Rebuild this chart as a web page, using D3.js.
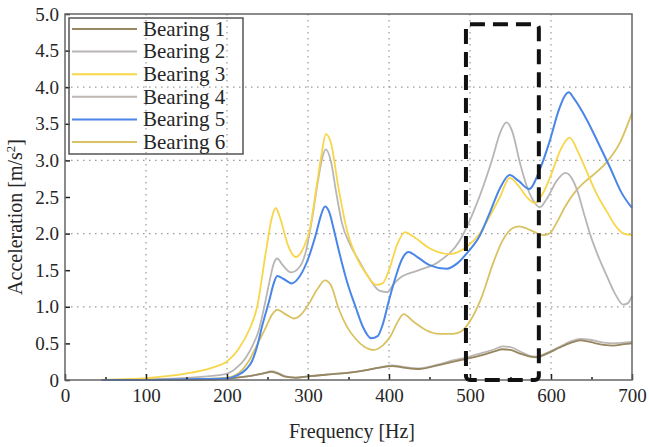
<!DOCTYPE html>
<html>
<head>
<meta charset="utf-8">
<script src="https://cdn.jsdelivr.net/npm/d3@7/dist/d3.min.js"></script>
<style>
  html, body { margin: 0; padding: 0; background: #fff; }
  svg { display: block; }
  text { font-family: "Liberation Serif", "Times New Roman", serif; fill: #262626; }
</style>
</head>
<body>
<svg id="chart" width="649" height="447"></svg>
<script>
// Frequency response of six bearings: [frequency Hz, acceleration m/s^2]
const bearing1 = [[45,0],[120,0],[180,0.005],[200,0.02],[225,0.05],[245,0.09],[255,0.11],[262,0.09],[272,0.045],[285,0.03],[300,0.05],[330,0.08],[351,0.1],[370,0.13],[388,0.17],[404,0.19],[418,0.17],[437,0.15],[460,0.2],[480,0.25],[496,0.29],[515,0.34],[530,0.39],[540,0.42],[550,0.41],[562,0.36],[574,0.32],[582,0.31],[595,0.36],[610,0.44],[625,0.51],[636,0.54],[648,0.52],[665,0.48],[677,0.47],[690,0.49],[700,0.5]];
const bearing2 = [[45,0],[100,0.01],[150,0.03],[198,0.08],[210,0.15],[223,0.3],[232,0.48],[239,0.67],[246,1.0],[252,1.32],[258,1.6],[262,1.66],[268,1.58],[279,1.47],[290,1.55],[297,1.74],[305,2.2],[312,2.7],[318,3.05],[322,3.15],[328,3.0],[335,2.55],[342,2.14],[352,1.85],[363,1.63],[375,1.4],[388,1.22],[398,1.2],[405,1.3],[413,1.39],[437,1.5],[462,1.62],[487,1.9],[508,2.4],[527,3.0],[538,3.4],[545,3.52],[552,3.4],[562,2.95],[571,2.62],[580,2.42],[586,2.36],[595,2.48],[607,2.72],[618,2.83],[626,2.75],[632,2.6],[640,2.3],[648,2.0],[658,1.7],[669,1.42],[679,1.18],[689,1.03],[695,1.05],[700,1.15]];
const bearing3 = [[45,0],[75,0.01],[115,0.04],[156,0.1],[185,0.18],[198,0.24],[214,0.42],[228,0.7],[237,0.99],[248,1.75],[255,2.2],[260,2.35],[266,2.2],[275,1.85],[285,1.68],[295,1.82],[302,2.05],[310,2.6],[317,3.1],[322,3.36],[328,3.25],[338,2.6],[348,2.05],[359,1.7],[372,1.45],[384,1.3],[392,1.32],[400,1.5],[410,1.85],[420,2.02],[430,1.96],[450,1.8],[475,1.72],[496,1.82],[512,2.0],[525,2.25],[537,2.5],[549,2.76],[560,2.65],[570,2.5],[580,2.42],[590,2.55],[600,2.8],[612,3.15],[623,3.31],[634,3.1],[644,2.85],[656,2.55],[669,2.3],[680,2.1],[690,2.0],[700,1.98]];
const bearing4 = [[45,0],[120,0],[180,0.005],[200,0.02],[225,0.05],[245,0.09],[255,0.12],[262,0.1],[272,0.05],[285,0.035],[300,0.05],[330,0.08],[351,0.1],[370,0.13],[388,0.17],[404,0.2],[418,0.18],[437,0.16],[460,0.21],[480,0.27],[496,0.31],[515,0.37],[530,0.42],[540,0.46],[550,0.45],[562,0.39],[574,0.33],[582,0.32],[595,0.37],[610,0.45],[625,0.53],[636,0.56],[648,0.55],[665,0.51],[677,0.5],[690,0.51],[700,0.52]];
const bearing5 = [[45,0],[100,0],[150,0.01],[198,0.02],[214,0.07],[224,0.15],[231,0.26],[237,0.45],[243,0.72],[252,1.08],[258,1.33],[262,1.42],[270,1.38],[280,1.32],[290,1.42],[301,1.68],[310,2.0],[316,2.25],[321,2.37],[326,2.3],[332,2.05],[338,1.77],[348,1.35],[359,0.99],[368,0.72],[378,0.57],[386,0.6],[392,0.75],[400,1.09],[408,1.4],[416,1.65],[424,1.75],[435,1.68],[450,1.57],[471,1.52],[485,1.6],[496,1.73],[512,1.97],[525,2.3],[537,2.62],[549,2.8],[560,2.72],[573,2.61],[586,2.87],[598,3.25],[610,3.7],[617,3.88],[622,3.93],[628,3.85],[644,3.56],[660,3.2],[673,2.9],[687,2.56],[700,2.35]];
const bearing6 = [[45,0],[100,0],[150,0.01],[198,0.03],[215,0.1],[228,0.28],[238,0.5],[248,0.72],[256,0.9],[262,0.96],[272,0.9],[283,0.84],[292,0.9],[301,1.04],[312,1.25],[321,1.36],[328,1.3],[338,0.97],[348,0.73],[359,0.56],[370,0.45],[380,0.41],[392,0.47],[402,0.6],[410,0.78],[418,0.9],[430,0.8],[446,0.68],[462,0.63],[479,0.63],[490,0.67],[503,0.86],[515,1.15],[528,1.58],[540,1.9],[552,2.07],[561,2.1],[570,2.07],[578,2.03],[590,1.98],[598,2.0],[607,2.15],[617,2.36],[632,2.6],[640,2.69],[652,2.8],[669,2.98],[685,3.24],[700,3.65]];

const seriesNames = ["Bearing 1", "Bearing 2", "Bearing 3", "Bearing 4", "Bearing 5", "Bearing 6"];
const seriesData = [bearing1, bearing2, bearing3, bearing4, bearing5, bearing6];
const seriesColors = ["#968761", "#b9b5b5", "#f7d64a", "#bdb6b3", "#4a86e8", "#d9c262"];
// draw order: low curves first, blue on top
const drawOrder = [5, 1, 3, 0, 2, 4];

const xTicks = [0, 100, 200, 300, 400, 500, 600, 700];
const xMinorTicks = [50, 150, 250, 350, 450, 550, 650];
const yTicks = [0, 0.5, 1.0, 1.5, 2.0, 2.5, 3.0, 3.5, 4.0, 4.5, 5.0];
const yGrid = [1, 2, 3, 4];
const xGrid = [100, 200, 300, 400, 500, 600];

// highlighted band [fromHz, toHz, fromAcc, toAcc]
const highlight = [495, 585, 0, 4.86];

const xTitle = "Frequency [Hz]";
const yTitle = "Acceleration [m/s";

const plot = { left: 65, right: 632, top: 14, bottom: 380 };
const svg = d3.select("#chart");

const x = d3.scaleLinear().domain([0, 700]).range([plot.left, plot.right]);
const y = d3.scaleLinear().domain([0, 5]).range([plot.bottom, plot.top]);

// grid
const grid = svg.append("g").attr("stroke", "#9a9a9a").attr("stroke-width", 1.2)
  .attr("stroke-dasharray", "1.5,4.5");
grid.selectAll("line.h").data(yGrid).join("line").attr("class", "h")
  .attr("x1", plot.left).attr("x2", plot.right)
  .attr("y1", d => y(d)).attr("y2", d => y(d));
grid.selectAll("line.v").data(xGrid).join("line").attr("class", "v")
  .attr("y1", plot.top).attr("y2", plot.bottom)
  .attr("x1", d => x(d)).attr("x2", d => x(d));

// curves
const line = d3.line().x(d => x(d[0])).y(d => y(d[1])).curve(d3.curveMonotoneX);
const curves = svg.append("g").attr("fill", "none").attr("stroke-linejoin", "round");
drawOrder.forEach(i => {
  curves.append("path").attr("d", line(seriesData[i]))
    .attr("stroke", seriesColors[i])
    .attr("stroke-width", i === 4 ? 2 : 1.8);
});

// axes with inward ticks
const fmtY = d => d === 0 ? "0" : d.toFixed(1);
const yAxis = svg.append("g").attr("transform", `translate(${plot.left},0)`)
  .call(d3.axisLeft(y).tickValues(yTicks).tickSize(-5).tickPadding(6).tickFormat(fmtY));
const xAxis = svg.append("g").attr("transform", `translate(0,${plot.bottom})`)
  .call(d3.axisBottom(x).tickValues(xTicks).tickSize(-6).tickPadding(9).tickFormat(d3.format("d")));
svg.append("g").attr("transform", `translate(0,${plot.bottom})`)
  .call(d3.axisBottom(x).tickValues(xMinorTicks).tickSize(-3).tickFormat(""))
  .call(g => g.select(".domain").remove());
[yAxis, xAxis].forEach(g => {
  g.select(".domain").remove();
  g.selectAll("text").attr("font-size", 19).attr("fill", "#262626")
    .style("font-family", '"Liberation Serif", "Times New Roman", serif');
});
svg.selectAll(".tick line").attr("stroke", "#222").attr("stroke-width", 1.5);

// frame
svg.append("rect")
  .attr("x", plot.left).attr("y", plot.top)
  .attr("width", plot.right - plot.left).attr("height", plot.bottom - plot.top)
  .attr("fill", "none").attr("stroke", "#666").attr("stroke-width", 1.5);

// dashed highlight band
svg.append("rect")
  .attr("x", x(highlight[0])).attr("y", y(highlight[3]))
  .attr("width", x(highlight[1]) - x(highlight[0]))
  .attr("height", y(highlight[2]) - y(highlight[3]))
  .attr("rx", 4)
  .attr("fill", "none").attr("stroke", "#111").attr("stroke-width", 4)
  .attr("stroke-dasharray", "15,8");

// axis titles
svg.append("text").attr("x", 352).attr("y", 438).attr("text-anchor", "middle")
  .attr("font-size", 20).text(xTitle);
const yt = svg.append("text").attr("transform", "translate(22,217) rotate(-90)")
  .attr("text-anchor", "middle").attr("font-size", 20);
yt.append("tspan").text(yTitle);
yt.append("tspan").attr("font-size", 13).attr("dy", -7).text("2");
yt.append("tspan").attr("dy", 7).text("]");

// legend
const lg = svg.append("g");
lg.append("rect").attr("x", 69).attr("y", 18).attr("width", 174).attr("height", 136)
  .attr("fill", "none").attr("stroke", "#555").attr("stroke-width", 1.5);
seriesNames.forEach((name, i) => {
  const cy = 29 + i * 22.6;
  lg.append("line").attr("x1", 72).attr("x2", 137).attr("y1", cy).attr("y2", cy)
    .attr("stroke", seriesColors[i]).attr("stroke-width", 2);
  lg.append("text").attr("x", 143).attr("y", cy + 6.8).attr("font-size", 21)
    .attr("fill", "#222").text(name);
});
</script>
</body>
</html>
